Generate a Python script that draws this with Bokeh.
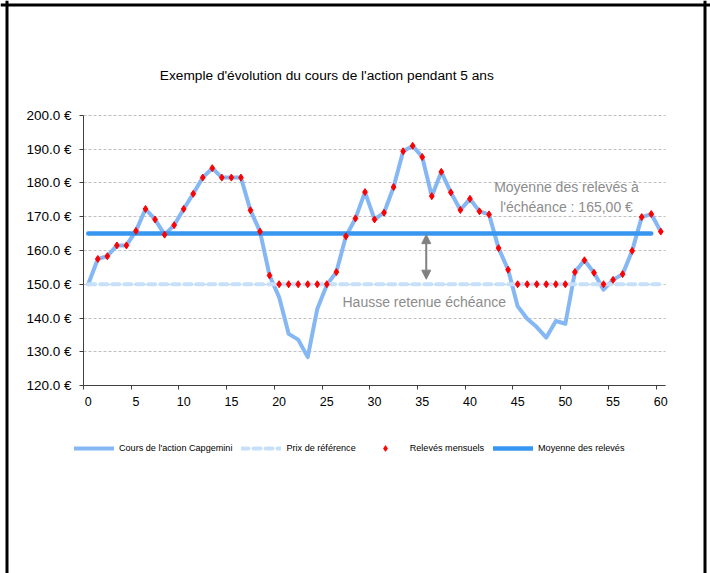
from bokeh.plotting import figure
from bokeh.models import (Range1d, FixedTicker, LinearAxis, Legend, LegendItem,
                          Label, Arrow, NormalHead, Span)
from bokeh.core.properties import value
from bokeh.embed import file_html
from bokeh.resources import INLINE

# ---------------- data ----------------
months = list(range(61))
cours = [150.0, 157.5, 158.3, 161.5, 161.5, 165.8, 172.3, 169.2, 164.7, 167.5,
         172.3, 176.8, 181.6, 184.4, 181.6, 181.6, 181.6, 171.9, 165.6, 152.6,
         146.2, 135.3, 133.6, 128.4, 142.7, 149.8, 153.6, 164.2, 169.5, 177.3,
         169.2, 171.2, 178.8, 189.4, 191.0, 187.7, 176.1, 183.3, 177.2, 172.0,
         175.3, 171.6, 170.7, 160.7, 154.3, 143.5, 139.8, 137.3, 134.2, 139.1,
         138.3, 153.6, 157.1, 153.4, 148.4, 151.3, 153.0, 159.9, 169.9, 170.8,
         165.6]
releves_x = list(range(1, 61))
releves = [157.5, 158.3, 161.5, 161.5, 165.8, 172.3, 169.2, 164.7, 167.5, 172.3,
           176.8, 181.6, 184.4, 181.6, 181.6, 181.6, 171.9, 165.6, 152.6, 150.0,
           150.0, 150.0, 150.0, 150.0, 150.0, 153.6, 164.2, 169.5, 177.3, 169.2,
           171.2, 178.8, 189.4, 191.0, 187.7, 176.1, 183.3, 177.2, 172.0, 175.3,
           171.6, 170.7, 160.7, 154.3, 150.0, 150.0, 150.0, 150.0, 150.0, 150.0,
           153.6, 157.1, 153.4, 150.0, 151.3, 153.0, 159.9, 169.9, 170.8, 165.6]
prix_x = [0, 60]
prix = [150.0, 150.0]
moyenne_x = [0, 59]
moyenne = [165.0, 165.0]

x_ticks = [0, 5, 10, 15, 20, 25, 30, 35, 40, 45, 50, 55, 60]
y_ticks = [120, 130, 140, 150, 160, 170, 180, 190, 200]
y_tick_labels = ["120.0 €", "130.0 €", "140.0 €", "150.0 €", "160.0 €",
                 "170.0 €", "180.0 €", "190.0 €", "200.0 €"]

title_text = "Exemple d'évolution du cours de l'action pendant 5 ans"
legend_labels = ["Cours de l'action Capgemini", "Prix de référence",
                 "Relevés mensuels", "Moyenne des relevés"]
annot_moyenne = ["Moyenne des relevés à", "l'échéance : 165,00 €"]
annot_hausse = ["Hausse retenue échéance"]

FONT = "Liberation Sans"
X_LO, X_HI = -0.5, 60.5      # category axis extent
Y_LO, Y_HI = 120, 200        # value axis extent

# ---------------- figure ----------------
# the frame fills the whole canvas; axes are drawn at fixed locations inside it
p = figure(width=710, height=573,
           x_range=Range1d(-9.197, 65.21), y_range=Range1d(64.30, 234.07),
           output_backend="svg", toolbar_location=None,
           x_axis_location=None, y_axis_location=None,
           min_border_left=0, min_border_right=0,
           min_border_top=0, min_border_bottom=0)
p.outline_line_color = None
p.background_fill_color = "white"
p.border_fill_color = "white"

# page frame (black border of the document cell)
for loc, dim in ((-8.516, "height"), (64.634, "height"), (232.74, "width")):
    p.add_layout(Span(location=loc, dimension=dim, line_color="#000000",
                      line_width=3))

# x axis: line + tick marks between categories (no labels of its own)
ax = LinearAxis(ticker=FixedTicker(ticks=[t - 0.5 for t in x_ticks]),
                fixed_location=Y_LO, bounds=(X_LO, X_HI))
ax.major_label_text_color = None
ax.major_label_standoff = 0
ax.major_tick_out = 4
ax.major_tick_in = 0
ax.minor_tick_line_color = None
ax.axis_line_color = "#404040"
ax.major_tick_line_color = "#404040"
p.add_layout(ax, "below")

# x labels centred on categories
bx = LinearAxis(ticker=FixedTicker(ticks=x_ticks),
                fixed_location=Y_LO, bounds=(X_LO, X_HI))
bx.axis_line_color = None
bx.major_tick_line_color = None
bx.minor_tick_line_color = None
bx.major_tick_out = 0
bx.major_tick_in = 0
bx.major_label_standoff = 11
bx.major_label_text_font = FONT
bx.major_label_text_font_size = "12.5px"
bx.major_label_text_color = "#000000"
p.add_layout(bx, "below")

y_ticker = FixedTicker(ticks=y_ticks)
ay = LinearAxis(ticker=y_ticker, fixed_location=X_LO, bounds=(Y_LO, Y_HI))
ay.major_label_overrides = {t: l for t, l in zip(y_ticks, y_tick_labels)}
ay.major_label_text_font = FONT
ay.major_label_text_font_size = "13.5px"
ay.major_label_text_color = "#000000"
ay.major_label_standoff = 8
ay.major_tick_out = 4
ay.major_tick_in = 0
ay.minor_tick_line_color = None
ay.axis_line_color = "#404040"
ay.major_tick_line_color = "#404040"
p.add_layout(ay, "left")

for g in p.xgrid:
    g.visible = False
for g in p.ygrid:
    g.ticker = y_ticker
    g.bounds = (Y_LO, Y_HI)
    g.grid_line_color = "#BFBFBF"
    g.grid_line_dash = "3 2"
    g.grid_line_width = 1
    if "cross_bounds" in g.properties():
        g.cross_bounds = (X_LO, X_HI)
    else:
        g.visible = False
        p.segment(x0=X_LO, x1=X_HI, y0=y_ticks, y1=y_ticks,
                  line_color="#BFBFBF", line_dash="3 2", line_width=1)

# ---------------- series ----------------
r_cours = p.line(months, cours, line_color="#85B7F4", line_width=4,
                 line_join="round", line_cap="round")
r_prix = p.line(prix_x, prix, line_color="#C6E0FA", line_width=4,
                line_dash="7 5", line_cap="round")
r_moy = p.line(moyenne_x, moyenne, line_color="#3797F0", line_width=4.5,
               line_cap="round")
r_rel = p.scatter(releves_x, releves, marker="diamond", size=7,
                  fill_color="#FF0000", line_color="#FF0000")

# ---------------- annotations ----------------
p.text(x=[50.12, 50.12], y=[178.67, 172.86], text=annot_moyenne,
       text_align="center", text_baseline="middle",
       text_font=value(FONT), text_font_size="14px", text_color="#8C8C8C")
p.text(x=[35.21], y=[144.68], text=annot_hausse,
       text_align="center", text_baseline="middle",
       text_font=value(FONT), text_font_size="14px", text_color="#8C8C8C")

p.add_layout(Arrow(x_start=35.42, y_start=151.5, x_end=35.42, y_end=164.7,
                   line_color="#808080", line_width=2,
                   start=NormalHead(size=9, fill_color="#808080", line_color="#808080"),
                   end=NormalHead(size=9, fill_color="#808080", line_color="#808080")))

p.add_layout(Label(x=25.0, y=211.85, text=title_text, text_align="center",
                   text_baseline="middle", text_font=FONT,
                   text_font_size="13.7px", text_color="#000000"))

legend = Legend(items=[LegendItem(label=legend_labels[0], renderers=[r_cours]),
                       LegendItem(label=legend_labels[1], renderers=[r_prix]),
                       LegendItem(label=legend_labels[2], renderers=[r_rel]),
                       LegendItem(label=legend_labels[3], renderers=[r_moy])],
                orientation="horizontal", location=(74, 118),
                glyph_width=40, glyph_height=14, label_height=14,
                label_standoff=5, spacing=9, padding=0, margin=0,
                border_line_color=None, background_fill_alpha=0,
                label_text_font=FONT, label_text_font_size="9.1px",
                label_text_color="#000000")
p.add_layout(legend, "center")

open("out.html", "w").write(file_html(p, INLINE))
